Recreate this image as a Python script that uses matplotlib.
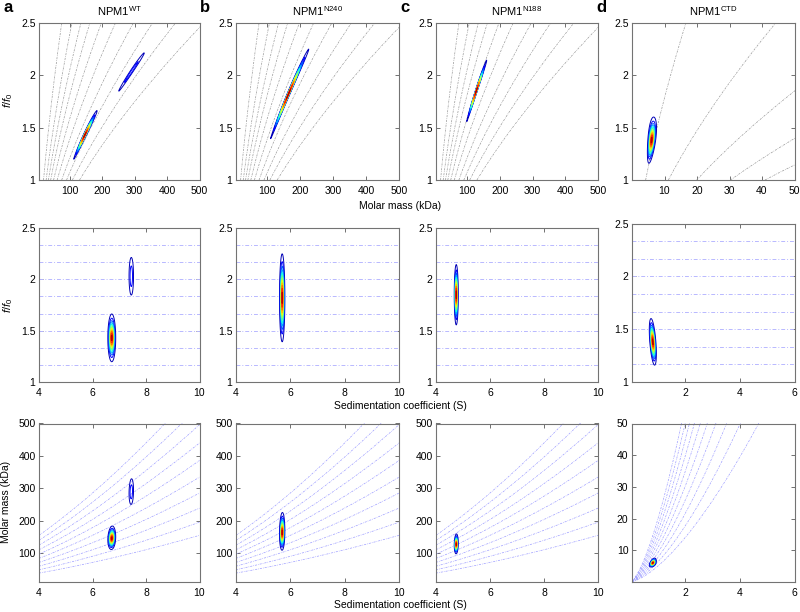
# 2DSA distributions of NPM1 constructs: f/f0 vs M, f/f0 vs s, M vs s

import numpy as np
import matplotlib
matplotlib.use('Agg')
import matplotlib.pyplot as plt
from matplotlib.ticker import FormatStrFormatter

plt.rcParams['font.family'] = ['Liberation Sans', 'DejaVu Sans']
plt.rcParams['mathtext.fontset'] = 'custom'
plt.rcParams['mathtext.rm'] = 'Liberation Sans'
plt.rcParams['mathtext.it'] = 'Liberation Sans:italic'

# %% data

letters = ['a', 'b', 'c', 'd']
constructs = ['WT', 'N240', 'N188', 'CTD']

# peaks of the 2D distributions
peak_panel = [0, 0, 1, 2, 3]
peak_s = [6.72, 7.45, 5.70, 4.75, 0.83]
peak_ff0 = [1.43, 2.03, 1.82, 1.85, 1.38]
peak_sd_s = [0.060, 0.050, 0.040, 0.030, 0.045]
peak_sd_ff0 = [0.095, 0.110, 0.175, 0.120, 0.090]
peak_height = [1.0, 0.2, 1.0, 1.0, 1.0]
peak_tilt = [0, 0, 0, 0, -0.3]   # shift of s per unit f/f0

# molar mass (kDa) = mass_scale * (s * f/f0)^1.5
mass_scale = 4.92

# reference grid: constant f/f0 lines, constant s lines (M at f/f0 = 1)
ff0_grid = [1.0, 1.167, 1.333, 1.5, 1.667, 1.833, 2.0, 2.167, 2.333, 2.5]
iso_s_mass = [[19, 27, 34, 41, 50, 61, 75, 90, 108, 130]] * 3 + [[4.2, 11.2, 19.9, 30.3, 40.9]]

# axis ranges and ticks
mass_lim = [(5, 500)] * 3 + [(0, 50)]
mass_lim_bottom = [(12, 500)] * 3 + [(0, 50)]
mass_ticks = [[100, 200, 300, 400, 500]] * 3 + [[10, 20, 30, 40, 50]]
sed_lim = [(4, 10)] * 3 + [(0.07, 6)]
sed_ticks = [[4, 6, 8, 10]] * 3 + [[2, 4, 6]]
ff0_lim = (1, 2.5)
ff0_ticks = [1, 1.5, 2, 2.5]

# %% helpers

def density(i, s, ff0):
    z = np.zeros_like(s)
    for p, s0, f0, ss, sf, h, t in zip(peak_panel, peak_s, peak_ff0, peak_sd_s,
                                       peak_sd_ff0, peak_height, peak_tilt):
        if p != i:
            continue
        ds = s - (s0 + t * (ff0 - f0))
        z += h * np.exp(-0.5 * (ds / ss) ** 2 - 0.5 * ((ff0 - f0) / sf) ** 2)
    return z

levels = np.linspace(0.05, 0.95, 12)

def contours(ax, x, y, z):
    ax.contour(x, y, z, levels=levels, cmap='jet', vmin=0, vmax=1, linewidths=0.7)

def style(ax):
    ax.tick_params(direction='in', length=3, width=0.6, top=True, right=True,
                   labelsize=7.5, color='0.35')
    ax.tick_params(axis='x', pad=4.5)
    ax.tick_params(axis='y', pad=2.5)
    for sp in ax.spines.values():
        sp.set_color('0.45')
        sp.set_linewidth(0.8)

W, H = 800, 612
fig = plt.figure(figsize=(8, 6.12), dpi=100)
cols_px = [(39, 199.5), (236, 399), (436, 598), (632, 794.5)]
rows_px = [(22.7, 180), (228, 382), (423.5, 582)]

def add_ax(r, c):
    x0, x1 = cols_px[c]
    y0, y1 = rows_px[r]
    if r == 1 and c == 3:
        y0 = 223.5
    return fig.add_axes([x0 / W, 1 - y1 / H, (x1 - x0) / W, (y1 - y0) / H])

grid_gray = dict(color='0.6', lw=0.5, ls=(0, (3, 1.5, 1, 1.5)))
grid_blue = dict(color=(0.62, 0.62, 1.0), lw=0.5, ls=(0, (3, 1.5, 1, 1.5)))
grid_lav = dict(color=(0.72, 0.72, 1.0), lw=0.7, ls=(0, (4, 2, 1, 2)))

for c in range(4):
    # row 1: f/f0 vs molar mass
    ax = add_ax(0, c)
    m = np.linspace(*mass_lim[c], 600)
    f = np.linspace(*ff0_lim, 400)
    M, F = np.meshgrid(m, f)
    S = (M / mass_scale) ** (2 / 3) / F
    for mb in iso_s_mass[c]:
        mm = np.linspace(mb, mb * 4.2, 200)
        ax.plot(mm, (mm / mb) ** (2 / 3), **grid_gray)
    contours(ax, M, F, density(c, S, F))
    ax.set_xlim(mass_lim[c])
    ax.set_ylim(ff0_lim)
    ax.set_xticks(mass_ticks[c])
    ax.set_yticks(ff0_ticks)
    ax.yaxis.set_major_formatter(FormatStrFormatter('%g'))
    ax.set_title(r'NPM1$^{\mathregular{%s}}$' % constructs[c], fontsize=8, pad=5)
    style(ax)

    # row 2: f/f0 vs sedimentation coefficient
    ax = add_ax(1, c)
    s = np.linspace(*sed_lim[c], 600)
    S, F = np.meshgrid(s, f)
    for g in ff0_grid[1:-1]:
        ax.axhline(g, **grid_lav)
    contours(ax, S, F, density(c, S, F))
    ax.set_xlim(sed_lim[c])
    ax.set_ylim(ff0_lim)
    ax.set_xticks(sed_ticks[c])
    ax.set_yticks(ff0_ticks)
    ax.yaxis.set_major_formatter(FormatStrFormatter('%g'))
    style(ax)

    # row 3: molar mass vs sedimentation coefficient
    ax = add_ax(2, c)
    m = np.linspace(max(mass_lim_bottom[c][0], 0.01), mass_lim_bottom[c][1], 600)
    S, M = np.meshgrid(s, m)
    F = (M / mass_scale) ** (2 / 3) / S
    for g in ff0_grid:
        ax.plot(s, mass_scale * (s * g) ** 1.5, **grid_blue)
    contours(ax, S, M, density(c, S, F))
    ax.set_xlim(sed_lim[c])
    ax.set_ylim(mass_lim_bottom[c])
    ax.set_xticks(sed_ticks[c])
    ax.set_yticks(mass_ticks[c])
    style(ax)

    fig.text((cols_px[c][0] - 36) / W, 1 - 8 / H, letters[c], fontsize=12,
             fontweight='bold', ha='left', va='center')

fig.text(400 / W, 1 - 206 / H, 'Molar mass (kDa)', ha='center', va='center', fontsize=7.5)
fig.text(400 / W, 1 - 406 / H, 'Sedimentation coefficient (S)', ha='center', va='center', fontsize=7.5)
fig.text(400 / W, 1 - 605 / H, 'Sedimentation coefficient (S)', ha='center', va='center', fontsize=7.5)
fig.text(8 / W, 1 - 100 / H, r'$f/f_0$', rotation=90, ha='center', va='center', fontsize=8)
fig.text(8 / W, 1 - 305 / H, r'$f/f_0$', rotation=90, ha='center', va='center', fontsize=8)
fig.text(6 / W, 1 - 502 / H, 'Molar mass (kDa)', rotation=90, ha='center', va='center', fontsize=7.5)

fig.savefig('out.png', dpi=100)
